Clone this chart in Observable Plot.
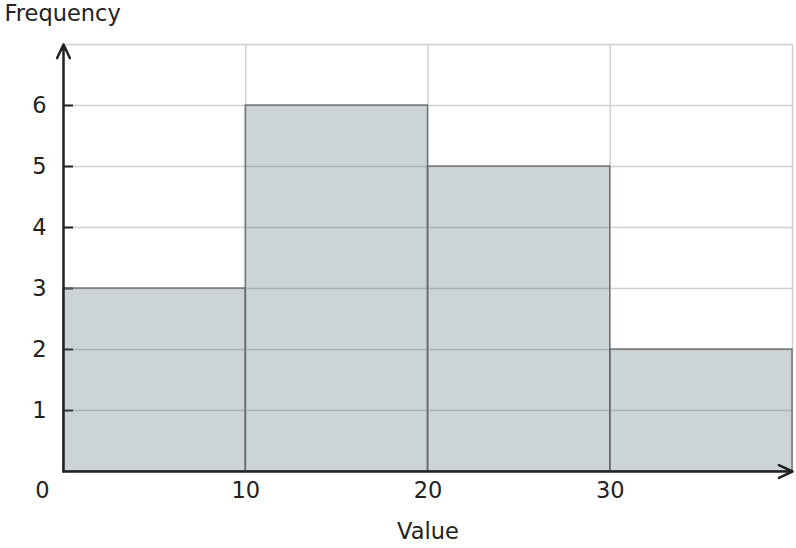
<!DOCTYPE html>
<html>
<head>
<meta charset="utf-8">
<script src="https://cdn.jsdelivr.net/npm/d3@7"></script>
<script src="https://cdn.jsdelivr.net/npm/@observablehq/plot@0.6"></script>
<style>
  html, body { margin: 0; padding: 0; background: #fff; }
  #chart svg { display: block; }
</style>
</head>
<body>
<div id="chart"></div>
<script>
// Histogram bins and frequencies
const binStart = [0, 10, 20, 30];
const binEnd = [10, 20, 30, 40];
const frequency = [3, 6, 5, 2];
const xDomain = [0, 40];
const yDomain = [0, 7];
const xTicks = [10, 20, 30];
const xGrid = [10, 20, 30, 40];
const yTicks = [1, 2, 3, 4, 5, 6];
const yGrid = [1, 2, 3, 4, 5, 6, 7];
const xLabel = "Value";
const yLabel = "Frequency";

const bins = binStart.map((s, i) => ({x1: s, x2: binEnd[i], y: frequency[i]}));

const font = "DejaVu Sans, sans-serif";
const ink = "#222";
const fs = 22.5;

const chart = Plot.plot({
  width: 796,
  height: 548,
  marginLeft: 63,
  marginRight: 4,
  marginTop: 44,
  marginBottom: 77,
  style: {fontFamily: font, fontSize: fs + "px", color: ink, background: "#fff"},
  x: {domain: xDomain},
  y: {domain: yDomain},
  marks: [
    Plot.gridX(xGrid, {stroke: "#d0d0d0", strokeOpacity: 1, strokeWidth: 1.5}),
    Plot.gridY(yGrid, {stroke: "#d0d0d0", strokeOpacity: 1, strokeWidth: 1.5}),
    Plot.axisY({ticks: yTicks, tickSize: -10, text: null, stroke: ink, strokeWidth: 2}),
    Plot.rectY(bins, {x1: "x1", x2: "x2", y: "y", fill: "#58707a", fillOpacity: 0.3, stroke: "#666", strokeOpacity: 0.85, strokeWidth: 1.5}),
    Plot.axisY({ticks: yTicks, tickFormat: "d", tickSize: 0, tickPadding: 17, fontSize: fs, fill: ink, label: null}),
    Plot.axisX({ticks: xTicks, tickFormat: "d", tickSize: 0, tickPadding: 11, fontSize: fs, fill: ink, label: null}),
    Plot.axisX({ticks: [0], tickFormat: "d", tickSize: 0, tickPadding: 11, dx: -21, fontSize: fs, fill: ink, label: null}),
    Plot.arrow([{x1: xDomain[0], y1: yDomain[0], x2: xDomain[0], y2: yDomain[1]}], {x1: "x1", y1: "y1", x2: "x2", y2: "y2", stroke: ink, strokeWidth: 2.5, headLength: 9, headAngle: 50}),
    Plot.arrow([{x1: xDomain[0], y1: yDomain[0], x2: xDomain[1], y2: yDomain[0]}], {x1: "x1", y1: "y1", x2: "x2", y2: "y2", stroke: ink, strokeWidth: 2.5, headLength: 9, headAngle: 50}),
    Plot.text([xLabel], {frameAnchor: "bottom", dy: 60, text: d => d, fontSize: fs, fill: ink, lineAnchor: "middle"}),
    Plot.text([yLabel], {frameAnchor: "top-left", dx: -59, dy: -31, text: d => d, fontSize: fs, fill: ink, textAnchor: "start", lineAnchor: "middle"})
  ]
});
document.getElementById("chart").appendChild(chart);
</script>
</body>
</html>
